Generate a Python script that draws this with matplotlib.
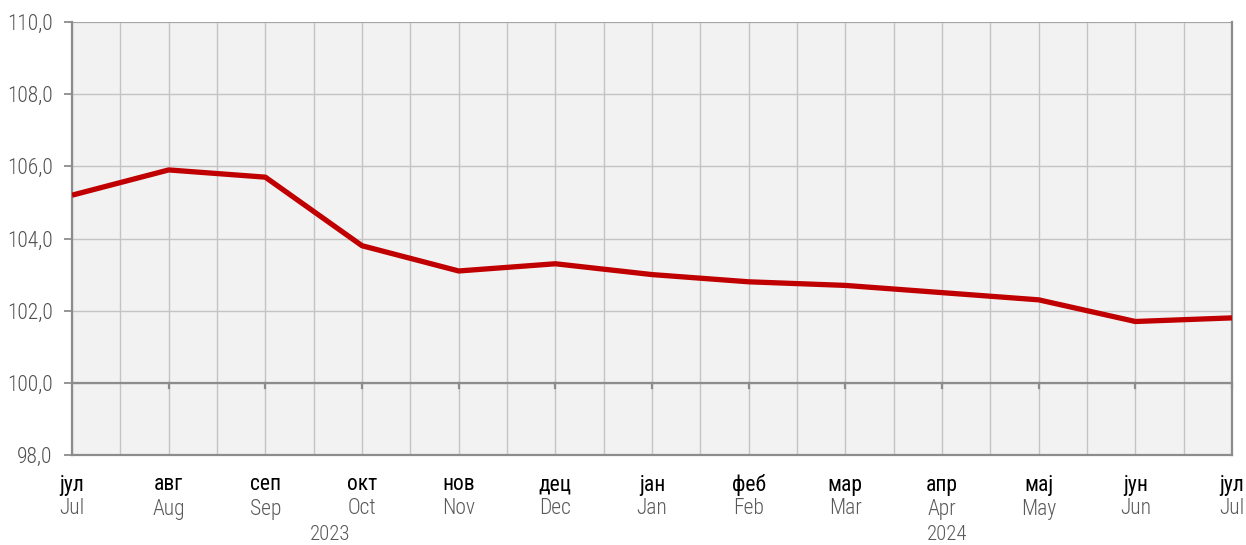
import matplotlib
matplotlib.use("Agg")
import matplotlib.pyplot as plt
import matplotlib.transforms as mtransforms
import numpy as np

# podaci
meseci_cyr = ["јул", "авг", "сеп", "окт", "нов", "дец", "јан", "феб", "мар", "апр", "мај", "јун", "јул"]
meseci_eng = ["Jul", "Aug", "Sep", "Oct", "Nov", "Dec", "Jan", "Feb", "Mar", "Apr", "May", "Jun", "Jul"]
vrednosti = [105.2, 105.9, 105.7, 103.8, 103.1, 103.3, 103.0, 102.8, 102.7, 102.5, 102.3, 101.7, 101.8]
godine = ["2023", "2024"]
godine_pos = [2.67, 9.05]
y_ticks = [98, 100, 102, 104, 106, 108, 110]

plt.rcParams['font.family'] = ['Roboto Condensed', 'Roboto', 'DejaVu Sans']

fig = plt.figure(figsize=(12.46, 5.45), dpi=100)
ax = fig.add_axes([72/1246, 1-455/545, (1232-72)/1246, (455-22)/545])
ax.set_facecolor("#f2f2f2")

x = np.arange(len(vrednosti))
ax.set_xlim(0, len(vrednosti) - 1)
ax.set_ylim(98, 110)

# mreza
for gx in np.arange(0, len(vrednosti) - 1, 0.5):
    ax.axvline(gx, color="#c4c4c4", lw=1, zorder=1)
for gy in y_ticks:
    ax.axhline(gy, color="#c4c4c4", lw=1, zorder=1)
ax.axhline(100, color="#8c8c8c", lw=1.6, zorder=2)
ax.axhline(110, color="#a0a0a0", lw=1.2, zorder=2)

ax.plot(x, vrednosti, color="#c00000", lw=3.8, zorder=4, solid_capstyle="butt")

# tikovi na 100
for xi in x[1:]:
    ax.plot([xi, xi], [100, 99.85], color="#8c8c8c", lw=1.6, zorder=3, clip_on=False)

for s in ["left", "right", "bottom"]:
    ax.spines[s].set_color("#8c8c8c")
    ax.spines[s].set_linewidth(1.6)
ax.spines["top"].set_visible(False)

ax.set_yticks(y_ticks)
ax.set_yticklabels([f"{v:.1f}".replace(".", ",") for v in y_ticks], fontsize=15.5,
                   color="#505050", fontweight="light")
ax.tick_params(axis="y", length=6, color="#8c8c8c", width=1.3, pad=8)
ax.set_xticks([])

trans = mtransforms.blended_transform_factory(ax.transData, fig.transFigure)
for i in range(len(x)):
    ax.text(x[i], 1 - 485/545, meseci_cyr[i], transform=trans, ha="center", va="center",
            fontsize=15.5, color="black", fontweight="normal")
    ax.text(x[i], 1 - 509/545, meseci_eng[i], transform=trans, ha="center", va="center",
            fontsize=15.5, color="#595959", fontweight="light")
for g, p in zip(godine, godine_pos):
    ax.text(p, 1 - 534/545, g, transform=trans, ha="center", va="center",
            fontsize=15, color="#595959", fontweight="light")

fig.savefig("out.png", dpi=100)
